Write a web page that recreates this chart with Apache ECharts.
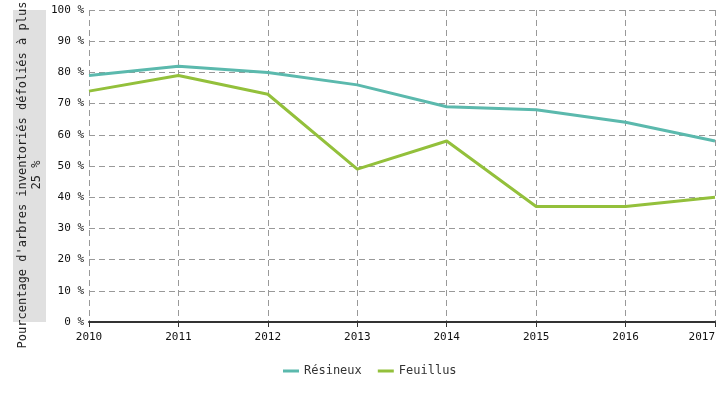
<!DOCTYPE html>
<html lang="fr">

<head>
    <meta charset="UTF-8">
    <title>Défoliation</title>
    <script src="https://cdn.jsdelivr.net/npm/echarts@6/dist/echarts.min.js"></script>
    <style>
        html, body { margin: 0; padding: 0; background: #fff; }
        #chart { width: 725px; height: 400px; }
    </style>
</head>

<body>
    <div id="chart"></div>

    <script>
        var years = ['2010', '2011', '2012', '2013', '2014', '2015', '2016', '2017'];
        var resineux = [79, 82, 80, 76, 69, 68, 64, 58];
        var feuillus = [74, 79, 73, 49, 58, 37, 37, 40];

        var mono = '"DejaVu Sans Mono", monospace';

        var myChart = echarts.init(document.getElementById('chart'));

        var option = {
            animation: false,
            textStyle: { fontFamily: mono },
            grid: { left: 89, right: 10, top: 10, bottom: 78, outerBoundsMode: 'none', containLabel: false },
            // grey band behind the y axis title
            graphic: [
                {
                    type: 'rect',
                    left: 13,
                    top: 10,
                    z: -10,
                    shape: { width: 33, height: 312 },
                    style: { fill: '#e0e0e0' }
                }
            ],
            legend: {
                bottom: 18,
                left: 278,
                itemWidth: 16,
                itemHeight: 3,
                itemGap: 16,
                icon: 'rect',
                textStyle: { fontFamily: mono, fontSize: 12, color: '#333' },
                data: ['Résineux', 'Feuillus']
            },
            xAxis: {
                type: 'category',
                data: years,
                boundaryGap: false,
                axisLine: { lineStyle: { color: '#333', width: 2 } },
                axisTick: { show: true, alignWithLabel: true, length: 5, lineStyle: { color: '#333' } },
                axisLabel: { fontFamily: mono, fontSize: 11, color: '#111', margin: 10, alignMaxLabel: 'right' },
                splitLine: { show: true, lineStyle: { color: '#999', type: [6, 4] } }
            },
            yAxis: {
                type: 'value',
                min: 0,
                max: 100,
                interval: 10,
                name: "Pourcentage d'arbres inventoriés défoliés à plus\n25 %",
                nameLocation: 'middle',
                nameRotate: 90,
                nameGap: 45,
                nameMoveOverlap: false,
                nameTextStyle: {
                    fontFamily: mono,
                    fontSize: 12,
                    color: '#222',
                    lineHeight: 14,
                    align: 'center',
                    padding: [0, 18, 0, 0]
                },
                axisLine: { show: false },
                axisTick: { show: false },
                axisLabel: { fontFamily: mono, fontSize: 11, color: '#111', margin: 5, formatter: '{value} %' },
                splitLine: { show: true, lineStyle: { color: '#999', type: [6, 4] } }
            },
            series: [
                {
                    name: 'Résineux',
                    type: 'line',
                    data: resineux,
                    symbol: 'none',
                    color: '#5bb9ad',
                    lineStyle: { width: 3 }
                },
                {
                    name: 'Feuillus',
                    type: 'line',
                    data: feuillus,
                    symbol: 'none',
                    color: '#93c03b',
                    lineStyle: { width: 3 }
                }
            ]
        };

        myChart.setOption(option);
    </script>

</body>

</html>
